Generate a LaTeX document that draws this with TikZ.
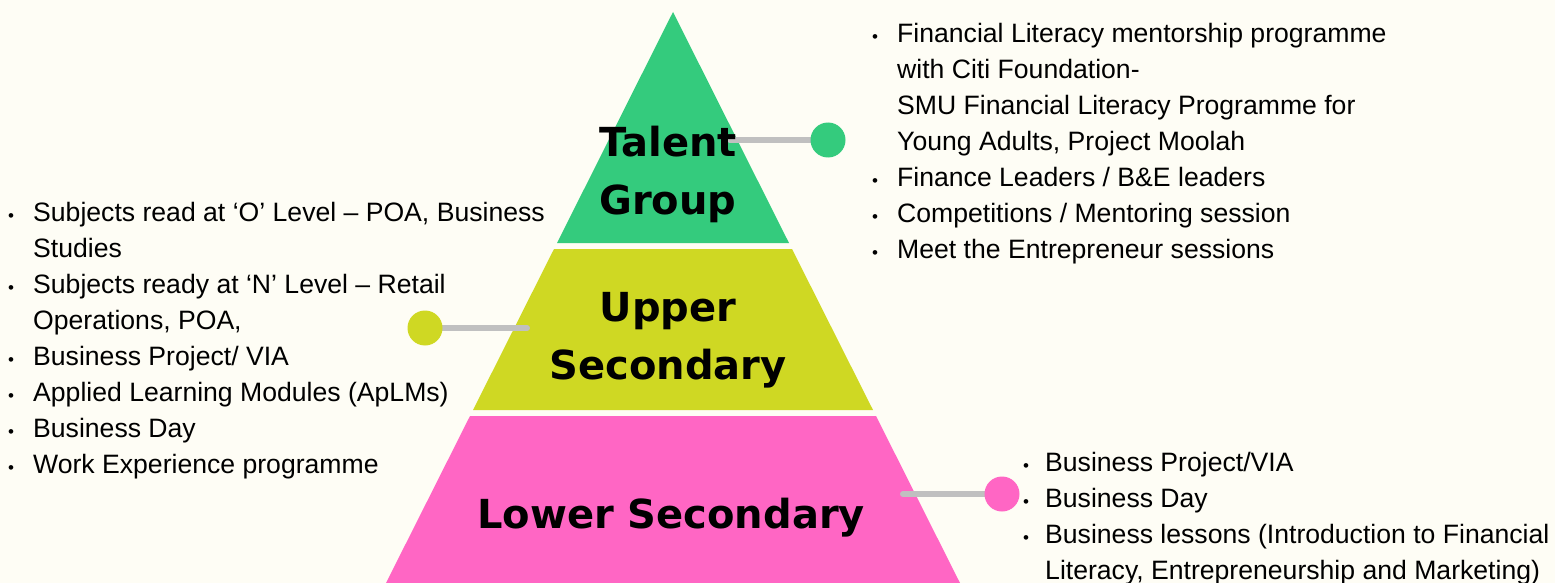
\documentclass[tikz,border=0pt]{standalone}
\usepackage{fontspec}
\setmainfont{Liberation Sans}
\newfontfamily\headfont{DejaVu Sans}
\usepackage{xcolor}
\usetikzlibrary{positioning}

\definecolor{bgcream}{RGB}{254,253,245}
\definecolor{talentgreen}{RGB}{52,203,125}
\definecolor{upperlime}{RGB}{207,216,35}
\definecolor{lowerpink}{RGB}{255,102,196}
\definecolor{linkgray}{RGB}{192,192,192}

\pgfdeclarelayer{background}
\pgfsetlayers{background,main}

% bullet and hanging indent for the lists
\newcommand{\bul}[1][25pt]{\makebox[#1][l]{\raisebox{0.5pt}{\fontsize{17}{17}\selectfont •}}}
\newcommand{\ind}[1][25pt]{\hspace*{#1}}

\begin{document}
\begin{tikzpicture}[x=1pt,y=-1pt,
    layer/.style={font=\headfont\bfseries\fontsize{40}{58}\selectfont, align=center, inner sep=0},
    dotend/.style={circle, minimum size=35pt, inner sep=0},
    link/.style={draw=linkgray, line width=6pt, line cap=round},
    itemlist/.style={font=\fontsize{26.6}{36}\selectfont, align=left, inner sep=0, anchor=north west}]
    \useasboundingbox (0,0) rectangle (1555,583);
    % Levels
    \node[layer] (talent) at (668,174) {Talent\\Group};
    \node[layer] (upper) at (668,340) {Upper\\Secondary};
    \node[layer] (lower) at (671,518) {Lower Secondary};
    % End points
    \coordinate (talentend) at (730,140);
    \coordinate (upperend) at (527,328);
    \coordinate (lowerend) at (903,494);
    \node[dotend, fill=talentgreen] (talentdot) at (828,140) {};
    \node[dotend, fill=upperlime] (upperdot) at (425,328) {};
    \node[dotend, fill=lowerpink] (lowerdot) at (1002,494) {};
    \begin{pgfonlayer}{background}
        \fill[bgcream] (0,0) rectangle (1555,583);
        % Pyramid
        \fill[talentgreen] (673,12) -- (789,243) -- (557,243) -- cycle;
        \fill[upperlime] (554,249) -- (792,249) -- (873,410) -- (473,410) -- cycle;
        \fill[lowerpink] (470,416) -- (876,416) -- (960,583) -- (386,583) -- cycle;
        \draw[link] (talentend) -- (talentdot.center);
        \draw[link] (upperend) -- (upperdot.center);
        \draw[link] (lowerend) -- (lowerdot.center);
    \end{pgfonlayer}
    % Lists
    \node[itemlist] (talentlist) at (872,23.5) {%
        \bul Financial Literacy mentorship programme\\
        \ind with Citi Foundation-\\
        \ind SMU Financial Literacy Programme for\\
        \ind Young Adults, Project Moolah\\
        \bul Finance Leaders / B\&E leaders\\
        \bul Competitions / Mentoring session\\
        \bul Meet the Entrepreneur sessions};
    \node[itemlist] (upperlist) at (8,202.5) {%
        \bul Subjects read at ‘O’ Level – POA, Business\\
        \ind Studies\\
        \bul Subjects ready at ‘N’ Level – Retail\\
        \ind Operations, POA,\\
        \bul Business Project/ VIA\\
        \bul Applied Learning Modules (ApLMs)\\
        \bul Business Day\\
        \bul Work Experience programme};
    \node[itemlist] (lowerlist) at (1023,452.5) {%
        \bul[22pt]Business Project/VIA\\
        \bul[22pt]Business Day\\
        \bul[22pt]Business lessons (Introduction to Financial\\
        \ind[22pt]Literacy, Entrepreneurship and Marketing)};
\end{tikzpicture}
\end{document}
